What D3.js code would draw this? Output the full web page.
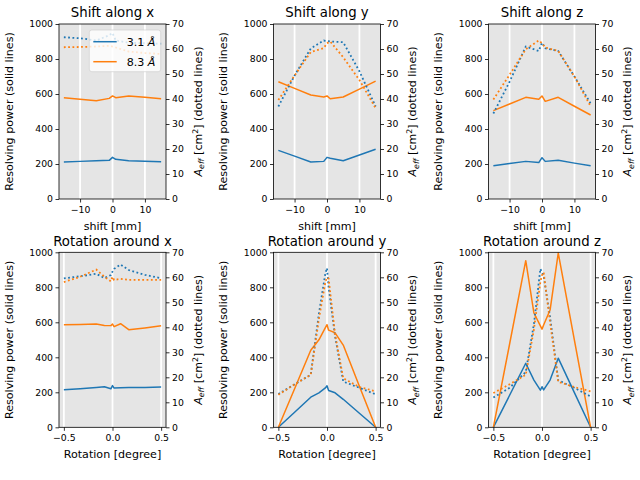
<!DOCTYPE html>
<html>
<head>
<meta charset="utf-8">
<script src="https://cdn.jsdelivr.net/npm/d3@7"></script>
<style>
body { margin: 0; background: #fff; }
text { font-family: "DejaVu Sans", sans-serif; fill: #000; }
</style>
</head>
<body>
<svg id="fig" width="640" height="480"></svg>
<script>
// x positions of the scans
const shiftPos = [-15, -10, -5, -1, 0, 1, 5, 10, 15]
const rotPos = [-0.5, -0.333, -0.167, -0.083, -0.0167, 0, 0.0167, 0.083, 0.167, 0.333, 0.5]

// resolving power (left axis, solid), 3.1 A and 8.3 A
const rShiftX31 = [211, 215, 218, 221, 238, 227, 219, 216, 213]
const rShiftX83 = [579, 570, 562, 575, 589, 579, 589, 581, 573]
const rShiftY31 = [278, 245, 211, 215, 238, 233, 219, 251, 284]
const rShiftY83 = [670, 632, 594, 583, 589, 573, 583, 628, 674]
const rShiftZ31 = [190, 203, 215, 208, 236, 215, 221, 205, 190]
const rShiftZ83 = [505, 543, 581, 570, 589, 558, 581, 530, 480]
const rRotX31 = [214, 220, 228, 232, 220, 238, 224, 226, 227, 228, 230]
const rRotX83 = [586, 588, 590, 582, 581, 590, 575, 592, 558, 568, 580]
const rRotY31 = [0, 86, 172, 197, 225, 237, 210, 197, 160, 80, 0]
const rRotY83 = [0, 220, 440, 500, 570, 586, 555, 540, 470, 235, 0]
const rRotZ31 = [0, 183, 366, 270, 212, 232, 214, 270, 395, 198, 0]
const rRotZ83 = [0, 476, 952, 653, 580, 561, 585, 670, 996, 498, 0]

// effective area in cm2 (right axis, dotted)
const aShiftX31 = [64.7, 64.3, 63.4, 65.5, 66.4, 63.4, 62.5, 62.3, 62.1]
const aShiftX83 = [60.7, 60.8, 61.0, 61.3, 61.0, 60.6, 59.0, 58.4, 58.0]
const aShiftY31 = [37.0, 49.4, 60.2, 63.4, 63.2, 63.0, 62.7, 51.1, 37.0]
const aShiftY83 = [39.6, 49.4, 58.8, 60.3, 62.3, 63.0, 56.7, 47.6, 36.3]
const aShiftZ31 = [34.2, 46.9, 61.0, 59.2, 62.5, 60.3, 59.2, 49.0, 38.2]
const aShiftZ83 = [39.8, 49.7, 59.9, 63.4, 62.3, 60.6, 59.2, 49.0, 37.1]
const aRotX31 = [59.6, 60.4, 61.4, 59.7, 60.9, 62.3, 63.4, 65.1, 62.9, 61.0, 59.6]
const aRotX83 = [58.1, 60.2, 63.1, 60.2, 58.4, 60.2, 58.9, 59.4, 59.0, 59.0, 59.0]
const aRotY31 = [13.3, 17.2, 21.0, 45.5, 61.6, 63.7, 56.0, 36.4, 18.3, 15.8, 13.2]
const aRotY83 = [13.0, 17.2, 21.0, 43.4, 58.1, 59.9, 59.5, 37.1, 19.6, 16.1, 14.4]
const aRotZ31 = [11.9, 15.8, 22.1, 41.3, 63.4, 62.0, 60.6, 44.1, 18.8, 15.8, 12.3]
const aRotZ83 = [13.7, 17.2, 21.0, 39.2, 58.1, 60.9, 62.0, 42.0, 18.2, 16.1, 14.4]

const titles = ["Shift along x", "Shift along y", "Shift along z",
                "Rotation around x", "Rotation around y", "Rotation around z"]
const legendLabels = ["3.1 ", "8.3 "]
const colors = ["#1f77b4", "#ff7f0e"]

const panels = [
  {xs: shiftPos, r: [rShiftX31, rShiftX83], a: [aShiftX31, aShiftX83]},
  {xs: shiftPos, r: [rShiftY31, rShiftY83], a: [aShiftY31, aShiftY83]},
  {xs: shiftPos, r: [rShiftZ31, rShiftZ83], a: [aShiftZ31, aShiftZ83]},
  {xs: rotPos, r: [rRotX31, rRotX83], a: [aRotX31, aRotX83]},
  {xs: rotPos, r: [rRotY31, rRotY83], a: [aRotY31, aRotY83]},
  {xs: rotPos, r: [rRotZ31, rRotZ83], a: [aRotZ31, aRotZ83]},
]

// layout
const colX = [59, 273.5, 488.5]
const rowY = [24, 252.3]
const W = 107, H = 175
const tickFont = 9.3, labelFont = 11.1, titleFont = 13.3

const svg = d3.select("#fig")

panels.forEach((p, i) => {
  const row = Math.floor(i / 3), col = i % 3
  const isShift = row == 0
  const x = d3.scaleLinear().domain(isShift ? [-16.5, 16.5] : [-0.55, 0.55]).range([0, W])
  const xTicks = isShift ? [-10, 0, 10] : [-0.5, 0, 0.5]
  const xFmt = isShift ? d3.format("d") : d3.format(".1f")
  const yL = d3.scaleLinear().domain([0, 1000]).range([H, 0])
  const yR = d3.scaleLinear().domain([0, 70]).range([H, 0])

  const g = svg.append("g").attr("transform", `translate(${colX[col]},${rowY[row]})`)
  const clipId = "clip" + i
  g.append("clipPath").attr("id", clipId).append("rect").attr("width", W).attr("height", H)

  g.append("rect").attr("width", W).attr("height", H).attr("fill", "#e5e5e5")
  g.append("g").selectAll("line").data(xTicks).join("line")
    .attr("x1", d => x(d)).attr("x2", d => x(d)).attr("y1", 0).attr("y2", H)
    .attr("stroke", "#fff").attr("stroke-width", 1.8)

  const plot = g.append("g").attr("clip-path", `url(#${clipId})`)
  const solid = d3.line().x(d => x(d[0])).y(d => yL(d[1]))
  const dotted = d3.line().x(d => x(d[0])).y(d => yR(d[1]))

  p.r.forEach((vals, k) => {
    plot.append("path").attr("d", solid(d3.zip(p.xs, vals)))
      .attr("fill", "none").attr("stroke", colors[k]).attr("stroke-width", 1.5)
      .attr("stroke-linejoin", "round")
  })

  // legend only on first panel, below the twin-axis dotted lines
  if (i == 0) {
    const lg = g.append("g").attr("transform", "translate(30.3,6)")
    lg.append("rect").attr("width", 71.4).attr("height", 41.7).attr("rx", 2.5)
      .attr("fill", "#fff").attr("fill-opacity", 0.8)
      .attr("stroke", "#ccc").attr("stroke-opacity", 0.8).attr("stroke-width", 0.8)
    legendLabels.forEach((lab, k) => {
      const yy = 11.7 + k * 20
      lg.append("line").attr("x1", 4).attr("x2", 27.4).attr("y1", yy).attr("y2", yy)
        .attr("stroke", colors[k]).attr("stroke-width", 1.5)
      const t = lg.append("text").attr("x", 37.4).attr("y", yy + 4).style("font-size", labelFont + "px")
      t.append("tspan").text(lab)
      t.append("tspan").style("font-style", "italic").text("Å")
    })
  }

  p.a.forEach((vals, k) => {
    plot.append("path").attr("d", dotted(d3.zip(p.xs, vals)))
      .attr("fill", "none").attr("stroke", colors[k]).attr("stroke-width", 1.8)
      .attr("stroke-dasharray", "1.8,2.5")
  })

  // axes
  const ax = g.append("g").attr("transform", `translate(0,${H})`)
    .call(d3.axisBottom(x).tickValues(xTicks).tickFormat(xFmt).tickSize(3.5).tickPadding(3.5))
  const ayL = g.append("g").call(d3.axisLeft(yL).tickValues(d3.range(0, 1001, 200))
    .tickFormat(d3.format("d")).tickSize(3.5).tickPadding(2.5))
  const ayR = g.append("g").attr("transform", `translate(${W},0)`)
    .call(d3.axisRight(yR).tickValues(d3.range(0, 71, 10)).tickSize(3.5).tickPadding(2.5))
  ;[ax, ayL, ayR].forEach(a => {
    a.select(".domain").remove()
    a.selectAll("line").attr("stroke", "#000").attr("stroke-width", 0.8)
    a.selectAll("text").style("font-size", tickFont + "px").attr("fill", "#000")
      .style("font-family", "DejaVu Sans")
  })
  g.append("rect").attr("width", W).attr("height", H)
    .attr("fill", "none").attr("stroke", "#000").attr("stroke-width", 0.8)

  // labels
  g.append("text").attr("x", W / 2).attr("y", -6.7).attr("text-anchor", "middle")
    .style("font-size", titleFont + "px").text(titles[i])
  g.append("text").attr("x", W / 2).attr("y", H + 30.5).attr("text-anchor", "middle")
    .style("font-size", labelFont + "px").text(isShift ? "shift [mm]" : "Rotation [degree]")
  g.append("text").attr("transform", `translate(-46.5,${H / 2}) rotate(-90)`)
    .attr("text-anchor", "middle").style("font-size", labelFont + "px")
    .text("Resolving power (solid lines)")
  const rl = g.append("text").attr("transform", `translate(${W + 35.5},${H / 2}) rotate(-90)`)
    .attr("text-anchor", "middle").style("font-size", labelFont + "px")
  rl.append("tspan").style("font-style", "italic").text("A")
  rl.append("tspan").style("font-style", "italic").style("font-size", "7.8px").attr("dy", 2.5).text("eff")
  rl.append("tspan").attr("dy", -2.5).text(" [cm")
  rl.append("tspan").style("font-size", "7.8px").attr("dy", -4).text("2")
  rl.append("tspan").attr("dy", 4).text("] (dotted lines)")
})
</script>
</body>
</html>
